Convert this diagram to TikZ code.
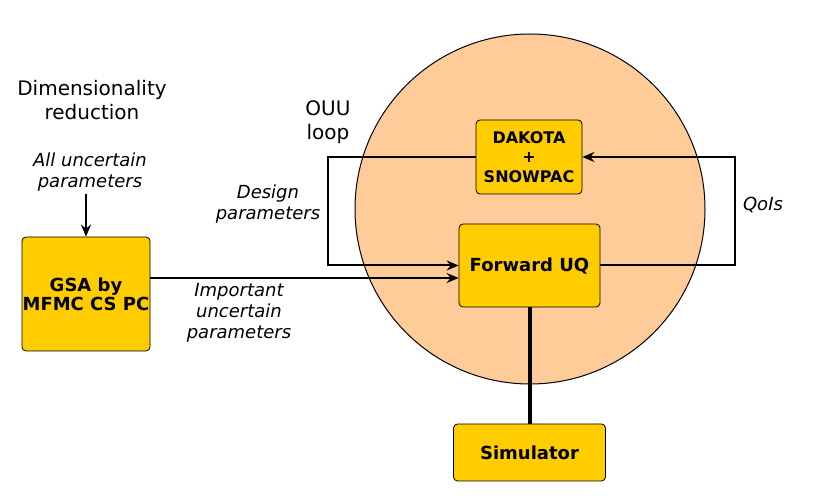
\documentclass[tikz,border=0pt]{standalone}
\usepackage{fontspec}
\setmainfont{DejaVu Sans}
\usetikzlibrary{arrows.meta}
\definecolor{boxyellow}{RGB}{255,204,0}
\definecolor{peach}{RGB}{255,204,153}
\tikzset{
  box/.style={draw, fill=boxyellow, rounded corners=2pt, align=center, inner sep=0pt},
  conn/.style={line width=1pt, -{Stealth[length=6pt,width=5pt,inset=2pt]}},
  lbl/.style={align=center, font=\fontsize{9}{10.5}\selectfont\itshape},
  title/.style={align=center, font=\fontsize{10}{12}\selectfont}
}
\begin{document}
\begin{tikzpicture}[x=0.5pt,y=-0.5pt]
    \useasboundingbox (0,0) rectangle (825,496);

    % OUU region
	\draw[fill=peach,line width=0.5pt] (530,209) circle[radius=87.5pt];

    \node[box, minimum width=53pt, minimum height=37pt, font=\fontsize{8}{9.75}\selectfont\bfseries] (dakota) at (529,157) {DAKOTA\\+\\SNOWPAC};
    \node[box, minimum width=70.5pt, minimum height=41.5pt, font=\fontsize{9}{10.5}\selectfont\bfseries] (fwd) at (529.5,265.5) {Forward UQ};
    \node[box, minimum width=76pt, minimum height=28.5pt, font=\fontsize{9}{10.5}\selectfont\bfseries] (sim) at (529.5,452.5) {Simulator};
    \node[box, minimum width=64pt, minimum height=57pt, font=\fontsize{9}{9.5}\selectfont\bfseries] (gsa) at (86,294) {GSA by\\MFMC CS PC};

    \node[title] (dimred) at (92,100) {Dimensionality\\reduction};
    \node[title] (ouu) at (328,122) {OUU\\loop};
    \node[lbl] (allpar) at (90,172) {All uncertain\\parameters};
    \node[lbl] (despar) at (268,204) {Design\\parameters};
    \node[lbl] (imppar) at (239,313) {Important\\uncertain\\parameters};
    \node[lbl] (qois) at (763,205) {QoIs};

    \coordinate (loopL) at (328,210);
    \coordinate (loopR) at (735,210);

    % connectors
    \draw[conn] ([yshift=2pt]gsa.north |- allpar.south) -- (gsa.north);
    \draw[conn] ([yshift=8pt]gsa.east) -- ([yshift=8pt]gsa.east -| fwd.west);
    \draw[conn] (dakota.west) -| (loopL) |- (fwd.west);
    \draw[conn] (fwd.east) -| (loopR) |- (dakota.east);
    \draw[line width=2pt] (fwd.south) -- (sim.north);

\end{tikzpicture}
\end{document}
